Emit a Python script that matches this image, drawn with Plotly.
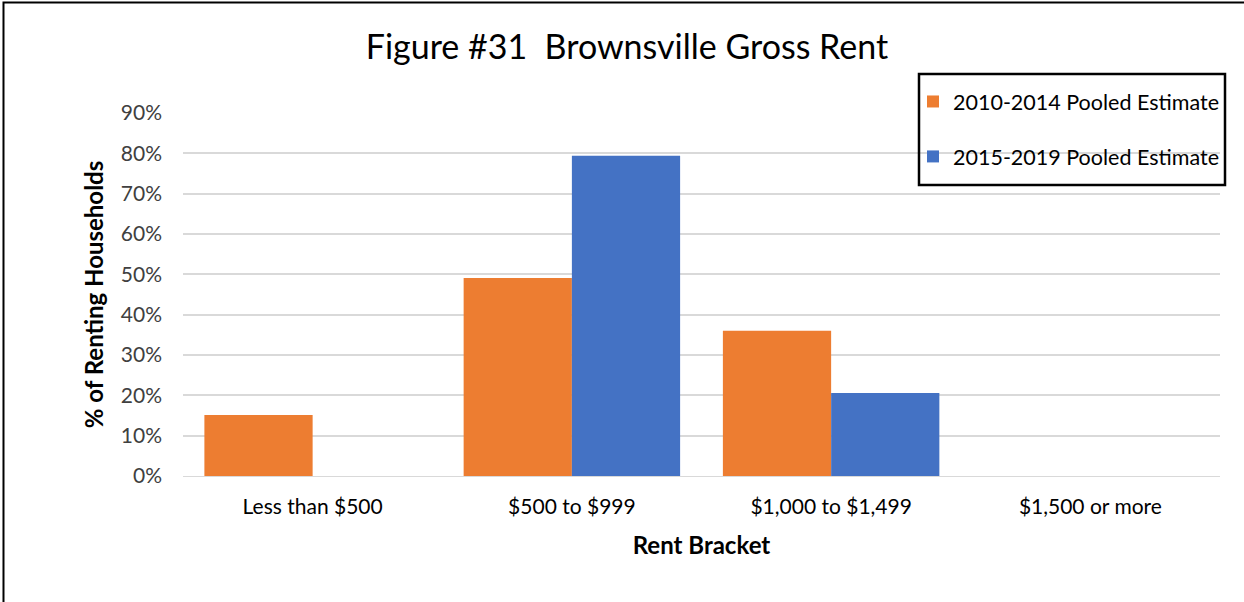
import plotly.graph_objects as go

categories = ["Less than $500", "$500 to $999", "$1,000 to $1,499", "$1,500 or more"]
series_names = ["2010-2014 Pooled Estimate", "2015-2019 Pooled Estimate"]
values_2010_2014 = [0.151, 0.491, 0.360, 0.0]
values_2015_2019 = [0.0, 0.794, 0.206, 0.0]
colors = ["#ED7D31", "#4472C4"]

FONT = "Lato, Carlito, Calibri, sans-serif"

fig = go.Figure()
for name, vals, col, grp in zip(series_names, [values_2010_2014, values_2015_2019], colors, ["a", "b"]):
    fig.add_trace(go.Bar(x=categories, y=vals, name=name, marker_color=col,
                         marker_line_width=0, legendgroup=grp))

L, R, T, B = 183, 24, 113, 126
W, H = 1244, 602
pw = W - L - R
ph = H - T - B

def px_x(x):
    return (x - L) / pw

def px_y(y):
    return (H - B - y) / ph

frame_path = "M {:.5f},{:.5f} L {:.5f},{:.5f} L {:.5f},{:.5f}".format(
    px_x(3.5), px_y(H + 5), px_x(3.5), px_y(2.5), px_x(W + 5), px_y(2.5))

fig.update_layout(
    width=W, height=H,
    margin=dict(l=L, r=R, t=T, b=B),
    paper_bgcolor="white", plot_bgcolor="white",
    font=dict(family=FONT, size=21, color="#404040"),
    barmode="group", bargap=0.165, bargroupgap=0,
    title=dict(text="Figure #31  Brownsville Gross Rent", x=0.504, xanchor="center",
               y=1 - 47 / H, yanchor="middle",
               font=dict(family=FONT, size=34, color="#000000")),
    legend=dict(x=px_x(913), y=px_y(81), xanchor="left", yanchor="top",
                borderwidth=0, bgcolor="rgba(0,0,0,0)",
                font=dict(family=FONT, size=21.5, color="#000000"),
                tracegroupgap=24, itemwidth=30),
    xaxis=dict(showgrid=False, showline=True, linecolor="#d9d9d9", linewidth=1,
               ticks="", ticklabelstandoff=12, tickfont=dict(size=21, color="#000000"),
               title=dict(text="<b>Rent Bracket</b>", standoff=19,
                          font=dict(family=FONT, size=24, color="#000000"))),
    yaxis=dict(range=[0, 0.9001], dtick=0.1, tickformat=".0%", showgrid=True,
               gridcolor="#d9d9d9", gridwidth=1.5, zeroline=False, ticks="",
               ticklabelstandoff=20, tickfont=dict(size=21, color="#404040"),
               title=dict(text="<b>% of Renting Households</b>", standoff=10,
                          font=dict(family=FONT, size=24, color="#000000"))),
    shapes=[
        dict(type="path", xref="paper", yref="paper", path=frame_path,
             line=dict(color="#000000", width=2), layer="above"),
        dict(type="rect", xref="paper", yref="paper", x0=px_x(919), x1=px_x(1225), y0=px_y(74), y1=px_y(185),
             line=dict(color="#000000", width=2.5), fillcolor="rgba(0,0,0,0)", layer="above"),
    ],
)

fig.write_html("out.html", config={"displayModeBar": False},
               post_script="document.body.style.margin='0';")
